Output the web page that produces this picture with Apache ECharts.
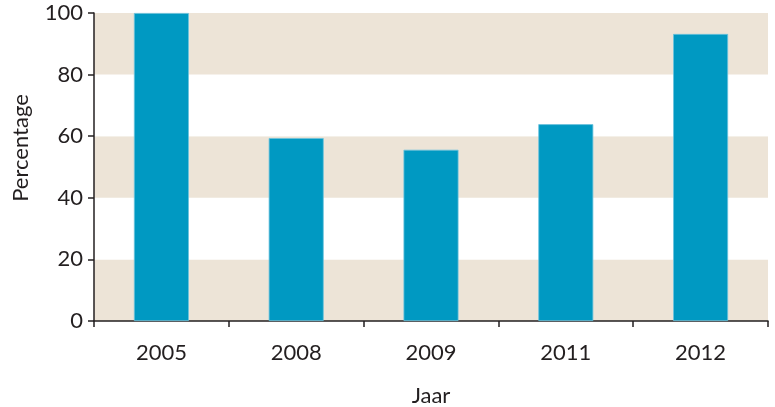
<!DOCTYPE html>
<html>
<head>
<meta charset="utf-8">
<script src="https://cdn.jsdelivr.net/npm/echarts@6/dist/echarts.min.js"></script>
<style>
  html, body { margin: 0; padding: 0; background: #fff; }
  #chart { width: 775px; height: 407px; }
</style>
</head>
<body>
<div id="chart"></div>
<script>
const years = ['2005', '2008', '2009', '2011', '2012']
const percentages = [100, 59.4, 55.6, 63.9, 93.2]
const yTicks = [0, 20, 40, 60, 80, 100]

const axisColor = '#231f20'
const fontFamily = 'Lato, "Open Sans", sans-serif'

const chart = echarts.init(document.getElementById('chart'))
chart.setOption({
  animation: false,
  grid: { left: 94, right: 7, top: 13, bottom: 86, outerBoundsMode: 'none' },
  xAxis: {
    type: 'category',
    data: years,
    name: 'Jaar',
    nameLocation: 'middle',
    nameGap: 64,
    nameTextStyle: { color: axisColor, fontSize: 22, fontFamily },
    axisLine: { lineStyle: { color: axisColor, width: 1.5 } },
    axisTick: { show: true, length: 6, lineStyle: { color: axisColor, width: 1.5 } },
    axisLabel: { color: axisColor, fontSize: 22, fontFamily, margin: 21 }
  },
  yAxis: {
    type: 'value',
    min: yTicks[0],
    max: yTicks[yTicks.length - 1],
    interval: 20,
    name: 'Percentage',
    nameLocation: 'middle',
    nameGap: 62,
    nameRotate: 90,
    nameTextStyle: { color: axisColor, fontSize: 22, fontFamily, padding: [0, 0, 0, 38] },
    axisLine: { show: true, lineStyle: { color: axisColor, width: 1.5 } },
    axisTick: { show: true, length: 6, lineStyle: { color: axisColor, width: 1.5 } },
    axisLabel: { color: axisColor, fontSize: 22, fontFamily, margin: 11 },
    splitLine: { show: false },
    splitArea: { show: true, areaStyle: { color: ['#ede4d7', '#ffffff'] } }
  },
  series: [
    {
      type: 'bar',
      data: percentages,
      barWidth: 55,
      itemStyle: { color: '#0099c2', borderColor: '#6cc3dd', borderWidth: 0.8 }
    }
  ]
})
</script>
</body>
</html>
